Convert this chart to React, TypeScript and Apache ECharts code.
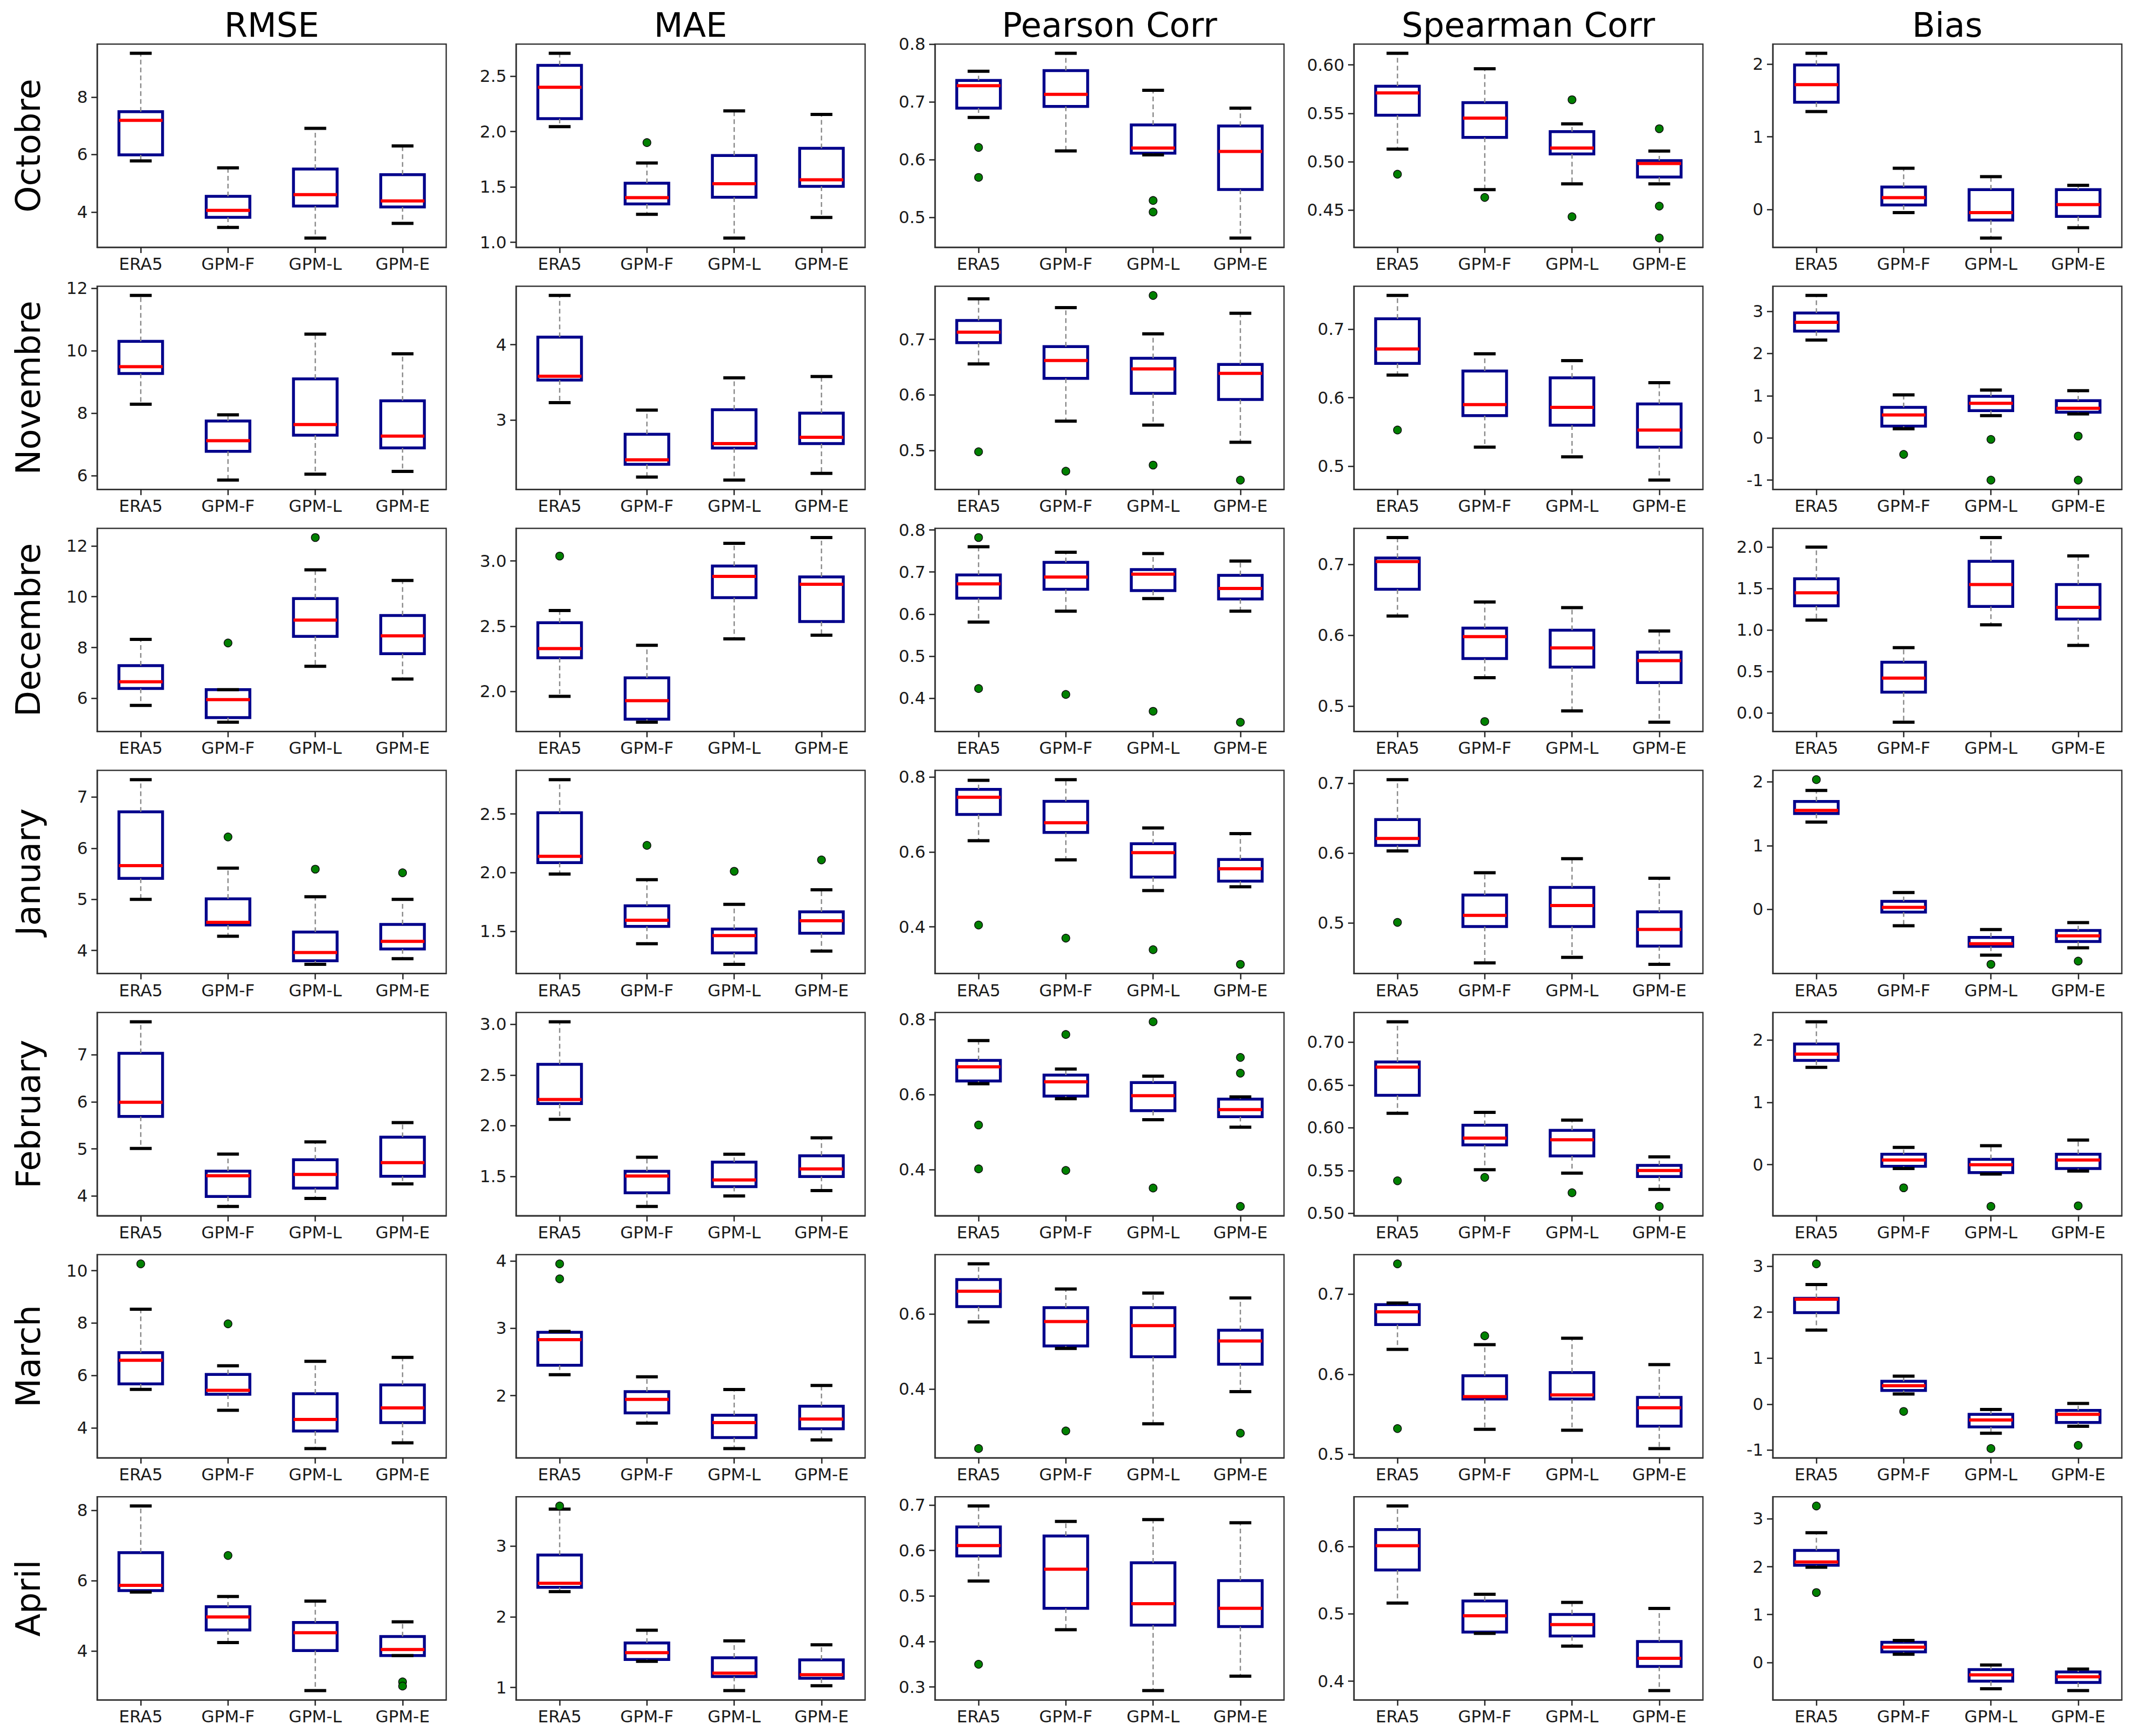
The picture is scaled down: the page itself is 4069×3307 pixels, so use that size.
import React, { useEffect, useRef } from "react";
import * as echarts from "echarts";

// ---------------- DATA ----------------
const METRICS = ["RMSE", "MAE", "Pearson Corr", "Spearman Corr", "Bias"];
const MONTHS = ["Octobre", "Novembre", "Decembre", "January", "February", "March", "April"];
const PRODUCTS = ["ERA5", "GPM-F", "GPM-L", "GPM-E"];

// each box: [lowerWhisker, Q1, median, Q3, upperWhisker]; one list of 4 boxes per month
const RMSE_BOXES = [
  [[5.78, 5.99, 7.19, 7.49, 9.52], [3.47, 3.82, 4.06, 4.55, 5.54], [3.10, 4.21, 4.61, 5.50, 6.91], [3.61, 4.18, 4.39, 5.30, 6.30]],
  [[8.29, 9.27, 9.49, 10.30, 11.77], [5.86, 6.78, 7.12, 7.75, 7.95], [6.05, 7.30, 7.64, 9.10, 10.53], [6.14, 6.89, 7.27, 8.40, 9.90]],
  [[5.72, 6.39, 6.65, 7.29, 8.32], [5.06, 5.24, 5.95, 6.34, 6.34], [7.26, 8.44, 9.08, 9.93, 11.06], [6.76, 7.76, 8.46, 9.26, 10.64]],
  [[5.00, 5.41, 5.66, 6.71, 7.34], [4.28, 4.50, 4.55, 5.01, 5.61], [3.73, 3.80, 3.96, 4.36, 5.05], [3.84, 4.03, 4.18, 4.51, 5.00]],
  [[5.01, 5.69, 5.99, 7.03, 7.70], [3.78, 3.99, 4.43, 4.53, 4.89], [3.95, 4.17, 4.46, 4.77, 5.15], [4.26, 4.42, 4.71, 5.25, 5.56]],
  [[5.47, 5.68, 6.58, 6.87, 8.53], [4.67, 5.28, 5.43, 6.04, 6.37], [3.21, 3.88, 4.32, 5.30, 6.54], [3.43, 4.20, 4.76, 5.64, 6.69]],
  [[5.68, 5.72, 5.87, 6.80, 8.13], [4.24, 4.60, 4.97, 5.26, 5.55], [2.87, 4.01, 4.52, 4.81, 5.42], [3.87, 3.87, 4.04, 4.41, 4.83]],
];
// outliers: [productIndex, value]
const RMSE_OUTLIERS = [
  [],
  [],
  [[1, 8.18], [2, 12.33]],
  [[1, 6.22], [2, 5.59], [3, 5.52]],
  [],
  [[0, 10.26], [1, 7.97]],
  [[1, 6.72], [3, 3.12], [3, 3.0]],
];
const RMSE_TICKS = [
  ["4", "6", "8"], ["6", "8", "10", "12"], ["6", "8", "10", "12"], ["4", "5", "6", "7"],
  ["4", "5", "6", "7"], ["4", "6", "8", "10"], ["4", "6", "8"],
];

const MAE_BOXES = [
  [[2.044, 2.117, 2.40, 2.597, 2.706], [1.253, 1.347, 1.404, 1.534, 1.716], [1.039, 1.407, 1.529, 1.784, 2.187], [1.224, 1.505, 1.565, 1.849, 2.154]],
  [[3.23, 3.53, 3.58, 4.10, 4.654], [2.24, 2.41, 2.47, 2.81, 3.13], [2.20, 2.626, 2.685, 3.136, 3.56], [2.29, 2.685, 2.77, 3.09, 3.576]],
  [[1.962, 2.258, 2.328, 2.526, 2.62], [1.763, 1.786, 1.928, 2.104, 2.353], [2.403, 2.719, 2.882, 2.961, 3.136], [2.431, 2.536, 2.821, 2.878, 3.18]],
  [[1.987, 2.085, 2.139, 2.51, 2.793], [1.393, 1.541, 1.593, 1.717, 1.939], [1.217, 1.315, 1.462, 1.518, 1.729], [1.33, 1.483, 1.589, 1.665, 1.853]],
  [[2.063, 2.219, 2.259, 2.606, 3.026], [1.203, 1.337, 1.503, 1.55, 1.689], [1.307, 1.398, 1.464, 1.641, 1.719], [1.359, 1.498, 1.573, 1.703, 1.88]],
  [[2.31, 2.45, 2.83, 2.94, 2.953], [1.592, 1.744, 1.945, 2.06, 2.28], [1.215, 1.377, 1.60, 1.709, 2.09], [1.343, 1.508, 1.652, 1.843, 2.15]],
  [[2.356, 2.418, 2.475, 2.876, 3.525], [1.37, 1.397, 1.493, 1.63, 1.81], [0.955, 1.154, 1.203, 1.42, 1.66], [1.025, 1.13, 1.18, 1.39, 1.605]],
];
const MAE_OUTLIERS = [
  [[1, 1.90]],
  [],
  [[0, 3.038]],
  [[1, 2.232], [2, 2.011], [3, 2.108]],
  [],
  [[0, 3.955], [0, 3.733]],
  [[0, 3.57]],
];
const MAE_TICKS = [
  ["1.0", "1.5", "2.0", "2.5"], ["3", "4"], ["2.0", "2.5", "3.0"], ["1.5", "2.0", "2.5"],
  ["1.5", "2.0", "2.5", "3.0"], ["2", "3", "4"], ["1", "2", "3"],
];

const PEARSON_BOXES = [
  [[0.673, 0.689, 0.728, 0.737, 0.753], [0.615, 0.692, 0.713, 0.754, 0.784], [0.608, 0.611, 0.620, 0.660, 0.720], [0.464, 0.548, 0.614, 0.658, 0.689]],
  [[0.656, 0.694, 0.713, 0.734, 0.773], [0.553, 0.630, 0.662, 0.687, 0.757], [0.546, 0.603, 0.647, 0.666, 0.710], [0.515, 0.592, 0.639, 0.655, 0.747]],
  [[0.581, 0.638, 0.672, 0.693, 0.760], [0.607, 0.659, 0.688, 0.723, 0.747], [0.637, 0.656, 0.695, 0.706, 0.744], [0.607, 0.636, 0.661, 0.692, 0.726]],
  [[0.630, 0.700, 0.746, 0.767, 0.791], [0.579, 0.652, 0.678, 0.735, 0.793], [0.497, 0.533, 0.598, 0.622, 0.664], [0.507, 0.522, 0.555, 0.580, 0.649]],
  [[0.629, 0.636, 0.674, 0.691, 0.744], [0.589, 0.596, 0.634, 0.652, 0.668], [0.533, 0.557, 0.597, 0.632, 0.649], [0.513, 0.541, 0.560, 0.588, 0.594]],
  [[0.579, 0.620, 0.661, 0.692, 0.734], [0.508, 0.515, 0.580, 0.617, 0.667], [0.307, 0.486, 0.569, 0.617, 0.656], [0.393, 0.466, 0.528, 0.557, 0.643]],
  [[0.533, 0.588, 0.611, 0.652, 0.698], [0.426, 0.473, 0.559, 0.632, 0.664], [0.292, 0.436, 0.483, 0.573, 0.668], [0.324, 0.433, 0.473, 0.534, 0.661]],
];
const PEARSON_OUTLIERS = [
  [[0, 0.621], [0, 0.569], [2, 0.529], [2, 0.509]],
  [[0, 0.498], [1, 0.463], [2, 0.779], [2, 0.474], [3, 0.447]],
  [[0, 0.782], [0, 0.423], [1, 0.409], [2, 0.369], [3, 0.343]],
  [[0, 0.405], [1, 0.370], [2, 0.339], [3, 0.300]],
  [[0, 0.519], [0, 0.402], [1, 0.760], [1, 0.398], [2, 0.794], [2, 0.351], [3, 0.699], [3, 0.657], [3, 0.302]],
  [[0, 0.241], [1, 0.288], [3, 0.282]],
  [[0, 0.350]],
];
const PEARSON_TICKS = [
  ["0.5", "0.6", "0.7", "0.8"], ["0.5", "0.6", "0.7"], ["0.4", "0.5", "0.6", "0.7", "0.8"], ["0.4", "0.6", "0.8"],
  ["0.4", "0.6", "0.8"], ["0.4", "0.6"], ["0.3", "0.4", "0.5", "0.6", "0.7"],
];

const SPEARMAN_BOXES = [
  [[0.513, 0.548, 0.571, 0.578, 0.612], [0.471, 0.525, 0.545, 0.561, 0.596], [0.477, 0.508, 0.514, 0.531, 0.539], [0.477, 0.484, 0.498, 0.501, 0.511]],
  [[0.633, 0.650, 0.671, 0.715, 0.749], [0.528, 0.574, 0.590, 0.639, 0.664], [0.514, 0.560, 0.586, 0.629, 0.654], [0.480, 0.528, 0.553, 0.591, 0.622]],
  [[0.627, 0.665, 0.704, 0.709, 0.738], [0.540, 0.567, 0.598, 0.610, 0.647], [0.493, 0.555, 0.582, 0.607, 0.639], [0.477, 0.533, 0.564, 0.576, 0.606]],
  [[0.603, 0.611, 0.621, 0.648, 0.705], [0.443, 0.495, 0.511, 0.540, 0.572], [0.451, 0.495, 0.525, 0.551, 0.592], [0.441, 0.467, 0.491, 0.516, 0.564]],
  [[0.617, 0.638, 0.671, 0.677, 0.724], [0.551, 0.580, 0.588, 0.603, 0.618], [0.547, 0.567, 0.586, 0.597, 0.609], [0.528, 0.543, 0.550, 0.556, 0.566]],
  [[0.631, 0.662, 0.678, 0.687, 0.689], [0.531, 0.569, 0.572, 0.598, 0.637], [0.530, 0.569, 0.574, 0.602, 0.645], [0.507, 0.535, 0.558, 0.571, 0.612]],
  [[0.516, 0.565, 0.601, 0.625, 0.660], [0.471, 0.473, 0.497, 0.519, 0.529], [0.452, 0.467, 0.484, 0.499, 0.517], [0.386, 0.422, 0.434, 0.459, 0.508]],
];
const SPEARMAN_OUTLIERS = [
  [[0, 0.487], [1, 0.463], [2, 0.564], [2, 0.443], [3, 0.534], [3, 0.454], [3, 0.421]],
  [[0, 0.553]],
  [[1, 0.478]],
  [[0, 0.501]],
  [[0, 0.538], [1, 0.542], [2, 0.524], [3, 0.508]],
  [[0, 0.738], [0, 0.532], [1, 0.648]],
  [],
];
const SPEARMAN_TICKS = [
  ["0.45", "0.50", "0.55", "0.60"], ["0.5", "0.6", "0.7"], ["0.5", "0.6", "0.7"], ["0.5", "0.6", "0.7"],
  ["0.50", "0.55", "0.60", "0.65", "0.70"], ["0.5", "0.6", "0.7"], ["0.4", "0.5", "0.6"],
];

const BIAS_BOXES = [
  [[1.346, 1.474, 1.716, 1.986, 2.146], [-0.041, 0.064, 0.165, 0.311, 0.568], [-0.389, -0.142, -0.041, 0.275, 0.453], [-0.247, -0.092, 0.069, 0.275, 0.334]],
  [[2.32, 2.53, 2.74, 2.96, 3.376], [0.216, 0.278, 0.545, 0.725, 1.02], [0.529, 0.647, 0.82, 0.984, 1.133], [0.569, 0.608, 0.702, 0.882, 1.118]],
  [[1.12, 1.293, 1.449, 1.618, 2.0], [-0.111, 0.252, 0.421, 0.612, 0.788], [1.063, 1.285, 1.549, 1.828, 2.115], [0.815, 1.132, 1.273, 1.549, 1.893]],
  [[1.37, 1.504, 1.553, 1.692, 1.866], [-0.258, -0.045, 0.03, 0.124, 0.263], [-0.72, -0.581, -0.541, -0.442, -0.318], [-0.605, -0.506, -0.417, -0.333, -0.208]],
  [[1.559, 1.671, 1.772, 1.934, 2.289], [-0.061, -0.025, 0.076, 0.167, 0.278], [-0.15, -0.127, 0.0, 0.086, 0.304], [-0.1, -0.061, 0.076, 0.167, 0.395]],
  [[1.61, 1.99, 2.28, 2.30, 2.60], [0.22, 0.297, 0.40, 0.497, 0.607], [-0.634, -0.497, -0.345, -0.221, -0.117], [-0.483, -0.40, -0.221, -0.138, 0.014]],
  [[1.99, 2.03, 2.10, 2.34, 2.71], [0.17, 0.22, 0.32, 0.42, 0.46], [-0.55, -0.39, -0.26, -0.15, -0.055], [-0.59, -0.42, -0.30, -0.20, -0.14]],
];
const BIAS_OUTLIERS = [
  [],
  [[1, -0.39], [2, -0.035], [2, -1.0], [3, 0.043], [3, -1.0]],
  [],
  [[0, 2.035], [2, -0.864], [3, -0.814]],
  [[1, -0.37], [2, -0.668], [3, -0.658]],
  [[0, 3.05], [1, -0.159], [2, -0.966], [3, -0.897]],
  [[0, 3.27], [0, 1.46]],
];
const BIAS_TICKS = [
  ["0", "1", "2"], ["-1", "0", "1", "2", "3"], ["0.0", "0.5", "1.0", "1.5", "2.0"], ["0", "1", "2"],
  ["0", "1", "2"], ["-1", "0", "1", "2", "3"], ["0", "1", "2", "3"],
];

const ALL_BOXES = [RMSE_BOXES, MAE_BOXES, PEARSON_BOXES, SPEARMAN_BOXES, BIAS_BOXES];
const ALL_OUTLIERS = [RMSE_OUTLIERS, MAE_OUTLIERS, PEARSON_OUTLIERS, SPEARMAN_OUTLIERS, BIAS_OUTLIERS];
const ALL_TICKS = [RMSE_TICKS, MAE_TICKS, PEARSON_TICKS, SPEARMAN_TICKS, BIAS_TICKS];

// ---------------- LAYOUT / STYLE ----------------
const W = 4069;
const H = 3307;
const GRID_LEFT0 = 185;
const GRID_DX = 798;
const GRID_W = 665;
const GRID_TOP0 = 84;
const GRID_DY = 461.2;
const GRID_H = 387;
const FONT = "DejaVu Sans";

function buildOption() {
  const grids: any[] = [];
  const xAxes: any[] = [];
  const yAxes: any[] = [];
  const series: any[] = [];
  const graphics: any[] = [];

  METRICS.forEach((m, j) => {
    graphics.push({
      type: "text",
      x: GRID_LEFT0 + j * GRID_DX + GRID_W / 2,
      y: 48,
      style: {
        text: m,
        fontSize: 64,
        fontFamily: FONT,
        fill: "#000",
        textAlign: "center",
        textVerticalAlign: "middle",
        align: "center",
        verticalAlign: "middle",
      },
    });
  });
  MONTHS.forEach((mo, i) => {
    graphics.push({
      type: "text",
      x: 54,
      y: GRID_TOP0 + i * GRID_DY + GRID_H / 2,
      rotation: Math.PI / 2,
      style: {
        text: mo,
        fontSize: 64,
        fontFamily: FONT,
        fill: "#000",
        textAlign: "center",
        textVerticalAlign: "middle",
        align: "center",
        verticalAlign: "middle",
      },
    });
  });

  for (let i = 0; i < MONTHS.length; i++) {
    for (let j = 0; j < METRICS.length; j++) {
      const k = grids.length;
      const boxes = ALL_BOXES[j][i];
      const outs = ALL_OUTLIERS[j][i];
      const ticks = ALL_TICKS[j][i];
      const tickVals = ticks.map(Number);
      const allVals: number[] = [];
      boxes.forEach((b) => allVals.push(b[0], b[4]));
      outs.forEach((o) => allVals.push(o[1]));
      const lo = Math.min(...allVals);
      const hi = Math.max(...allVals);
      const pad = (hi - lo) * 0.05;

      grids.push({
        left: GRID_LEFT0 + j * GRID_DX,
        top: GRID_TOP0 + i * GRID_DY,
        width: GRID_W,
        height: GRID_H,
        show: true,
        borderColor: "#333",
        borderWidth: 2.5,
        backgroundColor: "#fff",
      });
      xAxes.push({
        type: "category",
        gridIndex: k,
        data: PRODUCTS,
        axisLine: { show: true, onZero: false, lineStyle: { color: "#333", width: 2.5 } },
        axisTick: { show: true, alignWithLabel: true, length: 11, lineStyle: { color: "#222", width: 2.5 } },
        axisLabel: { fontSize: 32, fontFamily: FONT, color: "#1a1a1a", margin: 16 },
        splitLine: { show: false },
      });
      yAxes.push({
        type: "value",
        gridIndex: k,
        min: lo - pad,
        max: hi + pad,
        axisLine: { show: true, onZero: false, lineStyle: { color: "#333", width: 2.5 } },
        axisTick: { show: true, length: 11, customValues: tickVals, lineStyle: { color: "#222", width: 2.5 } },
        axisLabel: {
          fontSize: 32,
          fontFamily: FONT,
          color: "#1a1a1a",
          margin: 18,
          customValues: tickVals,
          formatter: (v: number) => {
            const idx = tickVals.findIndex((t) => Math.abs(t - v) < 1e-9);
            return idx >= 0 ? ticks[idx] : "";
          },
        },
        splitLine: { show: false },
      });
      series.push({
        type: "custom",
        xAxisIndex: k,
        yAxisIndex: k,
        clip: false,
        z: 2,
        encode: { x: 0, y: [1, 2, 3, 4, 5] },
        data: boxes.map((b, ci) => [ci, ...b]),
        renderItem: (params: any, api: any) => {
          const cat = api.value(0);
          const ys = [1, 2, 3, 4, 5].map((d) => api.coord([cat, api.value(d)])[1]);
          const cx = api.coord([cat, api.value(3)])[0];
          const bw = api.size([1, 0])[0];
          const hb = bw * 0.25;
          const hc = bw * 0.125;
          const whisk = { stroke: "#8a8a8a", lineWidth: 2.5, lineDash: [9, 6] };
          const cap = { stroke: "#000", lineWidth: 6 };
          return {
            type: "group",
            children: [
              {
                type: "rect",
                shape: { x: cx - hb, y: ys[3], width: 2 * hb, height: ys[1] - ys[3] },
                style: { fill: "none", stroke: "#00008B", lineWidth: 5.5 },
              },
              { type: "line", shape: { x1: cx, y1: ys[1], x2: cx, y2: ys[0] }, style: whisk },
              { type: "line", shape: { x1: cx, y1: ys[3], x2: cx, y2: ys[4] }, style: whisk },
              { type: "line", shape: { x1: cx - hc, y1: ys[0], x2: cx + hc, y2: ys[0] }, style: cap },
              { type: "line", shape: { x1: cx - hc, y1: ys[4], x2: cx + hc, y2: ys[4] }, style: cap },
              { type: "line", shape: { x1: cx - hb, y1: ys[2], x2: cx + hb, y2: ys[2] }, style: { stroke: "#ff0000", lineWidth: 6 } },
            ],
          };
        },
      });
      series.push({
        type: "scatter",
        xAxisIndex: k,
        yAxisIndex: k,
        z: 3,
        symbol: "circle",
        symbolSize: 15,
        itemStyle: { color: "#008000", borderColor: "#0a0a0a", borderWidth: 1.5, opacity: 1 },
        data: outs.map((o) => [o[0], o[1]]),
      });
    }
  }

  return {
    animation: false,
    backgroundColor: "#fff",
    grid: grids,
    xAxis: xAxes,
    yAxis: yAxes,
    series,
    graphic: { elements: graphics },
  };
}

export default function App() {
  const ref = useRef<HTMLDivElement>(null);
  useEffect(() => {
    if (!ref.current) return;
    const chart = echarts.init(ref.current, undefined, { renderer: "svg" });
    chart.setOption(buildOption() as any);
    return () => chart.dispose();
  }, []);
  return (
    <div
      ref={ref}
      style={{ position: "absolute", left: 0, top: 0, width: W, height: H, background: "#fff" }}
    />
  );
}
